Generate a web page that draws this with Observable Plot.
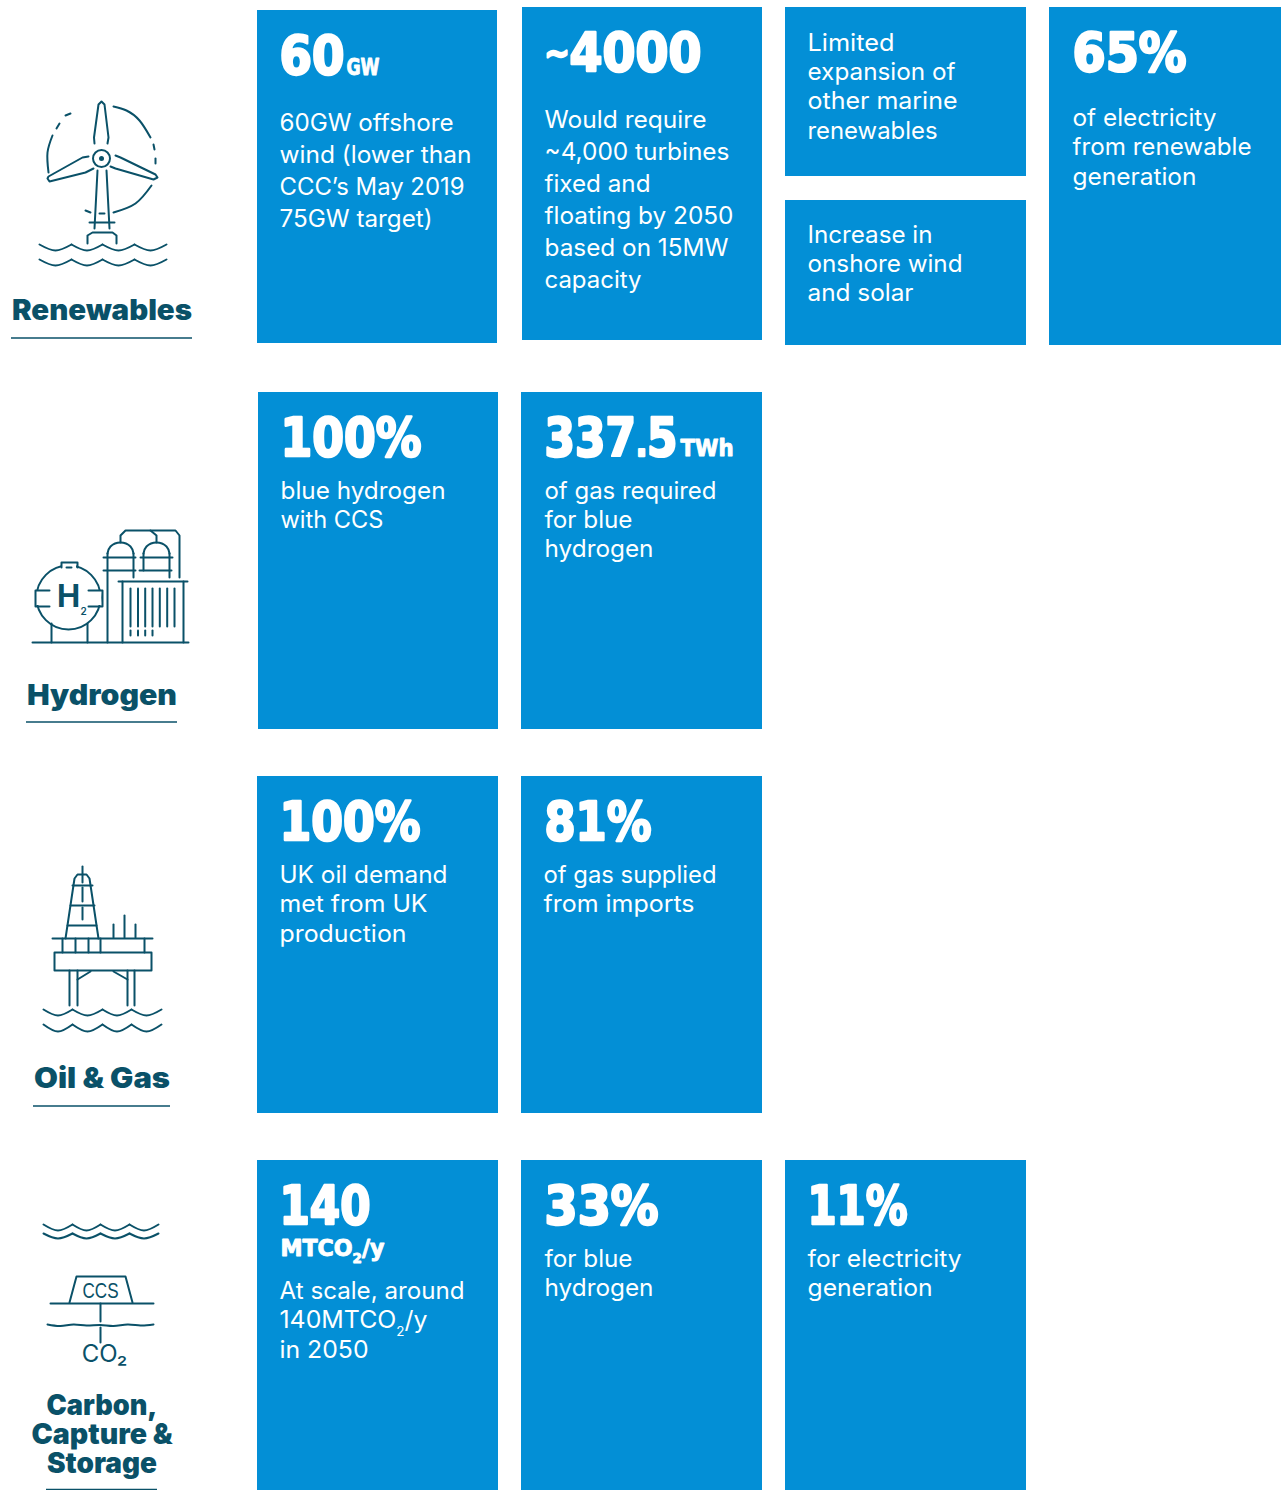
<!DOCTYPE html>
<html><head><meta charset="utf-8">
<script src="https://cdn.jsdelivr.net/npm/d3@7"></script>
<script src="https://cdn.jsdelivr.net/npm/@observablehq/plot@0.6"></script>
<style>html,body{margin:0;padding:0;background:#fff}svg{display:block}</style>
</head><body><div id="chart"></div>
<script>
// ---- content ----
const sectorLines = ["Renewables","Hydrogen","Oil & Gas","Carbon,","Capture &","Storage"];
const headlines = ["60","~4000","65%","100%","337.5","100%","81%","140","33%","11%"];
const units = ["GW","TWh","MTCO2/y"];
const bodyLines = [
 "60GW offshore","wind (lower than","CCC’s May 2019","75GW target)",
 "Would require","~4,000 turbines","fixed and","floating by 2050","based on 15MW","capacity",
 "Limited","expansion of","other marine","renewables",
 "Increase in","onshore wind","and solar",
 "of electricity","from renewable","generation",
 "blue hydrogen","with CCS",
 "of gas required","for blue","hydrogen",
 "UK oil demand","met from UK","production",
 "of gas supplied","from imports",
 "At scale, around","140MTCO2/y","in 2050",
 "for blue","hydrogen",
 "for electricity","generation"];

// ---- layout ----
const cardX1 = [257,522,785,785,1049,258,521,257,521,257,521,785];
const cardX2 = [497,762,1026,1026,1281,498,762,498,762,498,762,1026];
const cardY1 = [10,7,7,200,7,392,392,776,776,1160,1160,1160];
const cardY2 = [343,340,176,345,345,729,729,1113,1113,1490,1490,1490];
const headX = [279,544,1072,280,544,279,544,279,544,807];
const headY = [73,70,70,455,455,839,839,1223,1223,1223];
const headW = [65,157,114,141,133,141,107,91,114,100];
const unitX = [346,680,280], unitY = [74,455,1255], unitW = [33,53,104];
const bodyX = [279,279,279,279, 544,544,544,544,544,544, 807,807,807,807, 807,807,807, 1072,1072,1072,
  280,280, 544,544,544, 279,279,279, 543,543, 279,279,279, 544,544, 807,807];
const bodyY = [123,155,187,219, 120,152,184,216,248,280, 43,72,101,131, 235,264,293, 118,147,177,
  491,520, 491,520,549, 875,904,934, 875,904, 1291,1320,1350, 1259,1288, 1259,1288];
const bodyW = [174,192,185,153, 162,185,106,189,184,97, 87,148,150,130, 125,155,106, 144,179,124,
  165,103, 172,88,109, 168,148,127, 173,151, 185,148,89, 88,109, 154,125];
const sectorX = [101.5,101.5,101.5,101.5,101.5,101.5];
const sectorY = [311,696,1079,1406,1435,1464];
const sectorW = [180,150,136,111,141,110];
const ruleX1 = [11,26,33,46], ruleX2 = [192,177,170,157], ruleY = [337.5,721.5,1105.5,1489];

// ---- icon drawings (picture coordinates) ----
const iconStraight = [
 // turbine
 [[94,143],[93.5,137],[98,104],[101,101],[104,104],[108,137],[107,143]],
 [[88,156],[82,157],[48,176],[47,178],[49,181],[85,172],[93,168]],
 [[115,155],[120,157],[155,174],[157,177],[153,179],[115,168],[110,166]],
 [[97,170],[94,228]],[[106,170],[109,228]],[[89,222],[114,222]],
 [[87,243],[87,235],[92,232],[112,232],[116,235],[116,243]],
 [[65,115],[70,113]],[[56,128],[59,123]],[[153,144],[154,149]],[[155,158],[155,163]],[[85,210],[90,212]],[[99,213],[104,213]],
 // hydrogen
 [[49,590],[35,590],[35,606],[49,606]],[[88,590],[102,590],[102,606],[88,606]],
 [[61,567],[61,562],[77,562],[77,567]],[[66,567],[71,567]],
 [[51,623],[51,642]],[[87,623],[87,642]],[[32,642],[188,642]],
 [[107,642],[107,553]],[[133,553],[133,577]],[[143,553],[143,570]],[[169,553],[169,577]],
 [[103,557],[135,557]],[[103,570],[135,570]],[[140,557],[172,557]],[[139,570],[171,570]],
 [[118,581],[187,581]],[[122,581],[122,642]],[[183,581],[183,642]],
 [[130,588],[130,626]],[[137.5,588],[137.5,626]],[[144.7,588],[144.7,626]],[[152,588],[152,626]],[[159.3,588],[159.3,626]],[[166.7,588],[166.7,626]],[[174,588],[174,626]],
 [[130,630],[130,635]],[[137.5,630],[137.5,635]],[[144.7,630],[144.7,635]],[[152,630],[152,635]],
 [[120,542],[120,535],[125,530],[150,530],[156,535],[156,542]],
 [[150,530],[175,530],[179,535],[179,577]],
 // oil rig
 [[82,866],[82,882]],[[82,887],[82,901]],[[82,907],[82,919]],
 [[65,938],[74,878],[77,874],[86,874],[89,878],[98,938]],
 [[72,885],[92,885]],[[70,905],[94,905]],[[67,925],[96,925]],
 [[52,938],[152,938]],[[62,938],[62,952]],[[75,938],[75,952]],[[88,938],[88,952]],[[100,938],[100,952]],[[144,938],[144,952]],
 [[54,952],[151,952],[151,970],[54,970],[54,952]],
 [[113,924],[113,937]],[[124,915],[124,937]],[[135,924],[135,937]],
 [[69,970],[69,1005]],[[77,970],[77,1005]],[[127,970],[127,1005]],[[134,970],[134,1005]],
 [[77,979],[90,971]],[[127,979],[113,971]],
 // ccs
 [[69,1302],[76,1276],[125,1276],[132,1302]],[[50,1303],[153,1303]],[[100,1303],[100,1321]],[[100,1327],[100,1342]]
];
const iconCurved = [
 [[113,106],[126,110],[139,120],[150,137]],
 [[52,135],[47,152],[48,172]],
 [[151,185],[135,203],[113,212]],
 [[107,553],[110,546],[120,542],[130,546],[133,553]],
 [[143,553],[146,546],[156,542],[166,546],[169,553]],
 [[47,1324],[60,1325.5],[73,1324],[86,1325],[100,1324.5],[113,1325.5],[127,1324],[140,1325],[153,1324]]
];
const waveCusps = [
 [39,71,102,134,166],[39,71,102,134,166],
 [43,72,102,131,161],[43,72,102,131,161],
 [43,72,100,129,158],[43,72,100,129,158]];
const waveTop = [244,259,1009,1024,1224,1233];
const waveLow = [250,265,1015,1031,1230,1238];
const ringX = [101,68], ringY = [158,597], ringR = [8.5,32];
const maskX1 = [36,89,62], maskX2 = [49,101,76], maskY1 = [591,591,562], maskY2 = [605,605,568];

// ---- tables ----
const cards = cardX1.map((x1,i)=>({x1,x2:cardX2[i],y1:cardY1[i],y2:cardY2[i]}));
const body = bodyLines.map((text,i)=>({text,x:bodyX[i],y:bodyY[i]}));
const heads = headlines.map((text,i)=>({text,x:headX[i],y:headY[i]}));
const unitRows = units.map((text,i)=>({text,x:unitX[i],y:unitY[i]}));
const sectorRows = sectorLines.map((text,i)=>({text,x:sectorX[i],y:sectorY[i]}));
const rules = ruleX1.map((x1,i)=>({x1,x2:ruleX2[i],y:ruleY[i]}));
const toLine = list => list.flatMap((pts,id)=>pts.map(([x,y])=>({id,x,y})));
const wavePts = waveCusps.flatMap((cs,w)=>cs.slice(0,-1).flatMap((c,k)=>{
  const id = w+"-"+k, n = cs[k+1];
  return [{id,x:c,y:waveTop[w]},{id,x:(c+n)/2,y:waveLow[w]},{id,x:n,y:waveTop[w]}];
}));
const rings = ringX.map((x,i)=>({x,y:ringY[i],r:ringR[i]}));
const masks = maskX1.map((x1,i)=>({x1,x2:maskX2[i],y1:maskY1[i],y2:maskY2[i]}));

const BLUE="#038fd6", TEAL="#0a5168";
const ink = {stroke:TEAL,strokeWidth:2,strokeLinecap:"round",strokeLinejoin:"round"};
const bodyFont = "Inter, 'Noto Sans', sans-serif";
const headFont = "'DejaVu Sans Condensed','DejaVu Sans',sans-serif";

const chart = Plot.plot({
  width:1281,height:1490,margin:0,
  x:{domain:[0,1281],range:[0,1281],axis:null},
  y:{domain:[0,1490],range:[0,1490],axis:null},
  r:{type:"identity"},
  style:{background:"#fff"},
  marks:[
    Plot.rect(cards,{x1:"x1",x2:"x2",y1:"y1",y2:"y2",fill:BLUE}),
    Plot.text(heads,{x:"x",y:"y",text:"text",textAnchor:"start",lineAnchor:"bottom",fontFamily:headFont,fontWeight:700,fontSize:54,fill:"#fff",stroke:"#fff",strokeWidth:2.4,className:"head"}),
    Plot.text(unitRows,{x:"x",y:"y",text:"text",textAnchor:"start",lineAnchor:"bottom",fontFamily:headFont,fontWeight:700,fontSize:23,fill:"#fff",stroke:"#fff",strokeWidth:.9,className:"unit"}),
    Plot.text(body,{x:"x",y:"y",text:"text",textAnchor:"start",lineAnchor:"middle",fontFamily:bodyFont,fontSize:24,fill:"#fff",className:"body"}),
    Plot.text(sectorRows,{x:"x",y:"y",text:"text",textAnchor:"middle",lineAnchor:"middle",fontFamily:bodyFont,fontWeight:900,fontSize:28,fill:TEAL,className:"sector"}),
    Plot.ruleY(rules,{x1:"x1",x2:"x2",y:"y",stroke:TEAL,strokeWidth:1.7}),
    Plot.dot(rings,{x:"x",y:"y",r:"r",fill:"none",...ink}),
    Plot.dot([{x:101,y:158}],{x:"x",y:"y",r:2.5,fill:TEAL}),
    Plot.rect(masks,{x1:"x1",x2:"x2",y1:"y1",y2:"y2",fill:"#fff"}),
    Plot.line(toLine(iconStraight),{x:"x",y:"y",z:"id",fill:"none",...ink}),
    Plot.line(toLine(iconCurved),{x:"x",y:"y",z:"id",curve:"natural",fill:"none",...ink}),
    Plot.line(wavePts,{x:"x",y:"y",z:"id",curve:"natural",fill:"none",...ink}),
    Plot.text(["H"],{x:[68],y:[597],text:d=>d,fontFamily:bodyFont,fontWeight:700,fontSize:31,fill:TEAL}),
    Plot.text(["2"],{x:[83],y:[611],text:d=>d,fontFamily:bodyFont,fontWeight:600,fontSize:10,fill:TEAL}),
    Plot.text(["CCS"],{x:[100],y:[1290],text:d=>d,fontFamily:"'Liberation Sans Narrow',sans-serif",fontSize:22,fill:TEAL,className:"ccs"}),
    Plot.text(["CO₂"],{x:[104],y:[1354],text:d=>d,fontFamily:bodyFont,fontSize:24,fill:TEAL})
  ]
});
const svg = d3.select(chart);
// fit glyph runs to the widths measured in the picture
const fit = (sel, w) => svg.selectAll(sel).each(function(_,i){
  d3.select(this).attr("textLength",w[i]).attr("lengthAdjust","spacingAndGlyphs");
});
// mixed-size runs within a single text
function rich(el, parts){
  const t = d3.select(el); t.text(null);
  parts.forEach(p=>{
    const s = t.append("tspan").text(p.t);
    if(p.size) s.attr("font-size",p.size);
    if(p.dy) s.attr("dy",p.dy);
  });
}
svg.selectAll("text").each(function(){
  const s = this.textContent;
  if(s==="~4000") rich(this,[{t:"~",size:34,dy:-6},{t:"4000",dy:6}]);
  if(s==="337.5") rich(this,[{t:"337"},{t:".",size:36},{t:"5"}]);
  if(s==="MTCO2/y") rich(this,[{t:"MTCO"},{t:"2",size:14,dy:7},{t:"/y",dy:-7}]);
  if(s==="140MTCO2/y") rich(this,[{t:"140MTCO"},{t:"2",size:13,dy:8},{t:"/y",dy:-8}]);
});
fit(".head text",headW);
fit(".unit text",unitW);
fit(".body text",bodyW);
fit(".sector text",sectorW);
fit(".ccs text",[36]);
document.getElementById("chart").append(chart);
</script></body></html>
